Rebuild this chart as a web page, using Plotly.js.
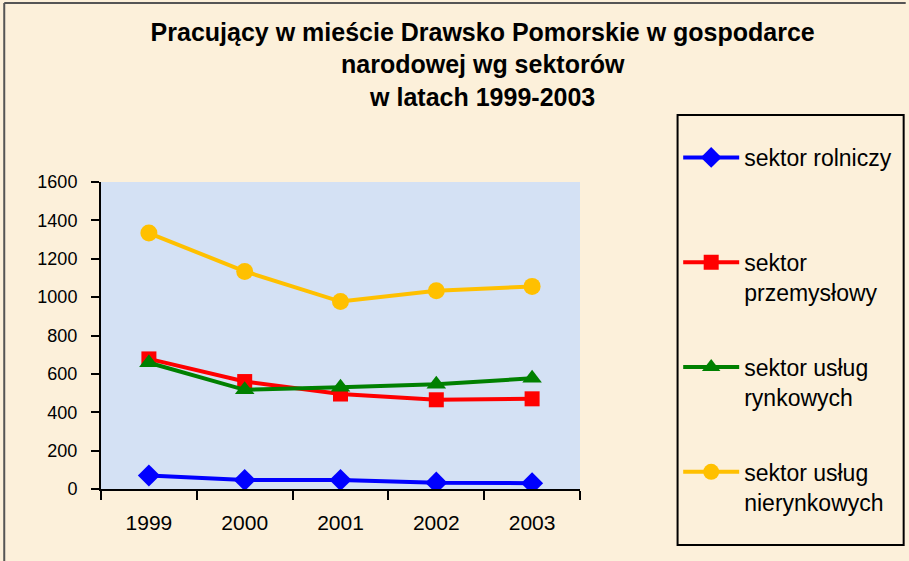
<!DOCTYPE html>
<html>
<head>
<meta charset="utf-8">
<script src="https://cdn.plot.ly/plotly-3.0.1.min.js"></script>
<style>
html, body { margin: 0; padding: 0; background: #ffffff; }
#chart { width: 909px; height: 561px; }
</style>
</head>
<body>
<div id="chart"></div>
<script>
const years = ['1999', '2000', '2001', '2002', '2003'];
const rolniczy = [70, 47, 47, 33, 30];
const przemyslowy = [678, 560, 495, 465, 470];
const uslugRynkowych = [658, 517, 530, 546, 577];
const uslugNierynkowych = [1334, 1134, 977, 1033, 1056];
const seriesNames = [
  'sektor rolniczy<br>\u00a0',
  'sektor<br>przemysłowy',
  'sektor usług<br>rynkowych',
  'sektor usług<br>nierynkowych'
];
const yTicks = [0, 200, 400, 600, 800, 1000, 1200, 1400, 1600];

function mk(name, y, color, symbol, size, group) {
  return {
    type: 'scatter', mode: 'lines+markers', x: years, y: y, name: name,
    legendgroup: group,
    line: { color: color, width: 4 },
    marker: { color: color, symbol: symbol, size: size }
  };
}

const data = [
  mk(seriesNames[0], rolniczy, '#0000FF', 'diamond', 17, 'a'),
  mk(seriesNames[1], przemyslowy, '#FF0000', 'square', 15, 'b'),
  mk(seriesNames[2], uslugRynkowych, '#008000', 'triangle-up', 17, 'c'),
  mk(seriesNames[3], uslugNierynkowych, '#FFC000', 'circle', 17, 'd')
];

const layout = {
  width: 909, height: 561,
  margin: { l: 101, r: 327, t: 182, b: 72 },
  paper_bgcolor: '#FCF0DA',
  plot_bgcolor: '#D4E1F4',
  font: { family: 'Liberation Sans, Arial, sans-serif', color: '#000000' },
  title: {
    text: 'Pracujący w mieście Drawsko Pomorskie w gospodarce<br>narodowej wg sektorów<br>w latach 1999-2003',
    font: { family: 'Liberation Sans, Arial, sans-serif', size: 25, color: '#000000', weight: 'bold' },
    x: 0.531, xanchor: 'center', y: 0.927, yanchor: 'top'
  },
  xaxis: {
    type: 'category',
    showgrid: false, zeroline: false,
    showline: true, linecolor: '#000000', linewidth: 2,
    ticks: 'outside', tickson: 'boundaries', ticklen: 9, tickwidth: 2, tickcolor: '#000000',
    tickfont: { size: 21, color: '#000000' },
    ticklabelstandoff: 14,
    range: [-0.5, 4.5]
  },
  yaxis: {
    range: [0, 1600], tickvals: yTicks,
    showgrid: false, zeroline: false,
    showline: true, linecolor: '#000000', linewidth: 2,
    ticks: 'outside', ticklen: 8, tickwidth: 2, tickcolor: '#000000',
    tickfont: { size: 18, color: '#000000' },
    ticklabelstandoff: 10
  },
  showlegend: true,
  legend: {
    x: 1.205, xanchor: 'left', y: 1.15, yanchor: 'top',
    bgcolor: 'rgba(0,0,0,0)', borderwidth: 0,
    font: { size: 23, color: '#000000' },
    traceorder: 'grouped', tracegroupgap: 42,
    valign: 'top', itemwidth: 56, maxheight: 1
  },
  shapes: [
    { type: 'rect', xref: 'paper', yref: 'paper',
      x0: 1.2037, x1: 1.6757, y0: -0.1824, y1: 1.2182,
      line: { color: '#000000', width: 2 }, fillcolor: 'rgba(0,0,0,0)', layer: 'above' },
    { type: 'line', xref: 'paper', yref: 'paper',
      x0: -0.202, x1: 1.68, y0: 1.583, y1: 1.583,
      line: { color: '#555555', width: 2 }, layer: 'above' },
    { type: 'line', xref: 'paper', yref: 'paper',
      x0: -0.202, x1: -0.202, y0: -0.24, y1: 1.583,
      line: { color: '#555555', width: 2 }, layer: 'above' }
  ]
};

Plotly.newPlot('chart', data, layout, { displayModeBar: false, staticPlot: true });
</script>
</body>
</html>
